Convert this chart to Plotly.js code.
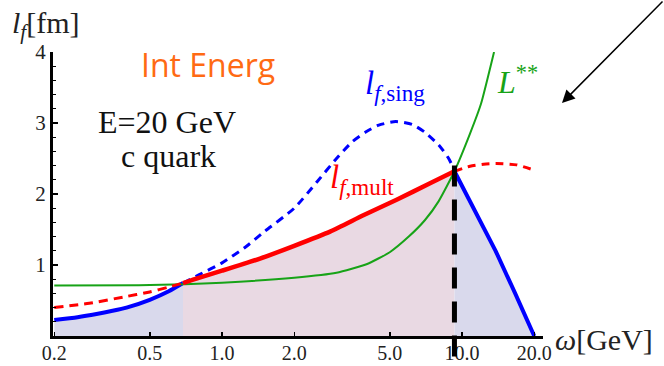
<!DOCTYPE html>
<html>
<head>
<meta charset="utf-8">
<script src="https://cdn.plot.ly/plotly-3.0.1.min.js"></script>
<style>html,body{margin:0;padding:0;background:#fff;}#chart{width:664px;height:366px;}</style>
</head>
<body>
<div id="chart"></div>
<script>
// ---- data (omega in GeV, l_f in fm) ----
const omegaBlueLeft = [0.2, 0.25, 0.3, 0.35, 0.4, 0.5, 0.6, 0.688];
const lBlueLeft     = [0.225, 0.265, 0.31, 0.355, 0.40, 0.51, 0.63, 0.746];

const omegaRedDashLeft = [0.2, 0.28, 0.39, 0.5, 0.6, 0.688];
const lRedDashLeft     = [0.40, 0.46, 0.55, 0.62, 0.69, 0.746];

const omegaRedMult = [0.688, 0.8, 1.0, 1.44, 2.0, 2.82, 3.88, 5.34, 7.36, 9.3];
const lRedMult     = [0.746, 0.82, 0.92, 1.09, 1.27, 1.47, 1.70, 1.92, 2.15, 2.32];

const omegaBlueDashSing = [0.688, 0.8, 1.0, 1.25, 1.5, 2.0, 2.5, 3.0, 3.5, 4.0, 4.5, 5.3, 6.2, 7.0, 8.0, 8.8, 9.3];
const lBlueDashSing     = [0.746, 0.86, 1.03, 1.25, 1.47, 1.80, 2.18, 2.50, 2.74, 2.88, 2.97, 3.02, 2.98, 2.87, 2.69, 2.50, 2.33];

const omegaRedDashRight = [9.3, 10.8, 12.3, 13.9, 16.9, 19.8];
const lRedDashRight     = [2.32, 2.39, 2.42, 2.43, 2.41, 2.34];

const omegaBlueRight = [9.3, 11.3, 13.8, 16.6, 20.0];
const lBlueRight     = [2.32, 1.78, 1.20, 0.61, 0.0];

const omegaGreen = [0.2, 0.45, 0.7, 1.0, 2.0, 3.0, 4.0, 5.0, 6.0, 7.0, 8.0, 9.3, 10.8, 12.0, 13.6];
const lGreen     = [0.71, 0.715, 0.73, 0.75, 0.82, 0.89, 1.01, 1.18, 1.40, 1.63, 1.90, 2.32, 2.85, 3.27, 4.0];

const crossOmega = 9.3;     // vertical dashed marker
const crossTop = 2.4;

const xTickVals = [0.2, 0.5, 1, 2, 5, 10, 20];
const xTickText = ['0.2', '0.5', '1.0', '2.0', '5.0', '10.0', '20.0'];
const yTickVals = [1, 2, 3, 4];
const yTickText = ['1', '2', '3', '4'];

// ---- styling ----
const BLUE = '#0000ff', RED = '#ff0000', GREEN = '#17a317';
const LAV = 'rgb(217,217,236)', PINK = 'rgb(233,217,227)';
const SERIF = 'Liberation Serif';

const xr = [-0.7042, 1.3375];
const yr = [0, 4];

const traces = [
  {x: omegaBlueLeft, y: lBlueLeft, mode: 'lines', fill: 'tozeroy', fillcolor: LAV,
   line: {color: BLUE, width: 4, shape: 'spline', smoothing: 0.6}},
  {x: omegaRedMult, y: lRedMult, mode: 'lines', fill: 'tozeroy', fillcolor: PINK,
   line: {color: RED, width: 0, shape: 'spline', smoothing: 0.6}},
  {x: omegaBlueRight, y: lBlueRight, mode: 'lines', fill: 'tozeroy', fillcolor: LAV,
   line: {color: BLUE, width: 0}},
  {x: omegaGreen, y: lGreen, mode: 'lines',
   line: {color: GREEN, width: 2, shape: 'spline', smoothing: 0.5}},
  {x: omegaRedDashLeft, y: lRedDashLeft, mode: 'lines',
   line: {color: RED, width: 3, dash: '9px,6px', shape: 'spline', smoothing: 0.6}},
  {x: omegaBlueDashSing, y: lBlueDashSing, mode: 'lines',
   line: {color: BLUE, width: 3, dash: '8px,6px', shape: 'spline', smoothing: 0.6}},
  {x: omegaRedDashRight, y: lRedDashRight, mode: 'lines',
   line: {color: RED, width: 3, dash: '8px,6px', shape: 'spline', smoothing: 0.6}},
  {x: omegaRedMult, y: lRedMult, mode: 'lines',
   line: {color: RED, width: 4.5, shape: 'spline', smoothing: 0.6}},
  {x: omegaBlueRight, y: lBlueRight, mode: 'lines',
   line: {color: BLUE, width: 4}}
];
traces.forEach(t => { t.hoverinfo = 'skip'; t.showlegend = false; });

const W = 664, H = 366, mL = 53, mR = 121, mT = 52, mB = 30;
const pw = W - mL - mR, ph = H - mT - mB;
const px = v => (v - mL) / pw;     // pixel -> paper (x)
const py = v => (H - mB - v) / ph; // pixel -> paper (y)

const layout = {
  width: W, height: H,
  margin: {l: mL, r: mR, t: mT, b: mB, pad: 0},
  paper_bgcolor: '#fff', plot_bgcolor: '#fff',
  showlegend: false,
  xaxis: {
    type: 'log', range: xr, showgrid: false, zeroline: false,
    showline: true, linecolor: '#000', linewidth: 2.5,
    ticks: 'inside', ticklen: 4, tickwidth: 1.5, tickcolor: '#000',
    tickmode: 'array', tickvals: xTickVals, ticktext: xTickText,
    tickfont: {family: SERIF, size: 20, color: '#222'},
    ticklabelstandoff: -3
  },
  yaxis: {
    range: yr, showgrid: false, zeroline: false,
    showline: true, linecolor: '#000', linewidth: 3,
    ticks: 'inside', ticklen: 5, tickwidth: 1.5, tickcolor: '#000',
    tickmode: 'array', tickvals: yTickVals, ticktext: yTickText,
    tickfont: {family: SERIF, size: 21, color: '#222'},
    minor: {dtick: 0.2, ticks: 'inside', ticklen: 3, tickwidth: 1.2, tickcolor: '#000', showgrid: false}
  },
  shapes: [
    {type: 'line', xref: 'x', yref: 'paper', x0: crossOmega, x1: crossOmega,
     y0: crossTop / yr[1], y1: py(368), layer: 'above',
     line: {color: '#000', width: 5, dash: '21px,13px'}}
  ],
  annotations: [
    {xref: 'paper', yref: 'paper', x: px(10), y: py(25), xanchor: 'left', yanchor: 'middle', showarrow: false,
     text: '<i>l</i><sub><i>f</i></sub>[fm]', font: {family: SERIF, size: 30, color: '#222'}},
    {xref: 'paper', yref: 'paper', x: px(553), y: py(339), xanchor: 'left', yanchor: 'middle', showarrow: false,
     text: '<i>ω</i>[GeV]', font: {family: SERIF, size: 30, color: '#222'}},
    {xref: 'paper', yref: 'paper', x: px(139), y: py(64), xanchor: 'left', yanchor: 'middle', showarrow: false,
     text: 'Int Energ', font: {family: 'Open Sans', size: 32, color: '#ff6a13'}},
    {xref: 'paper', yref: 'paper', x: px(166.5), y: py(122), xanchor: 'center', yanchor: 'middle', showarrow: false,
     text: 'E=20 GeV', font: {family: SERIF, size: 32, color: '#111'}},
    {xref: 'paper', yref: 'paper', x: px(168), y: py(156), xanchor: 'center', yanchor: 'middle', showarrow: false,
     text: 'c quark', font: {family: SERIF, size: 32, color: '#111'}},
    {xref: 'paper', yref: 'paper', x: px(363), y: py(86), xanchor: 'left', yanchor: 'middle', showarrow: false,
     text: '<i>l</i><sub><i>f</i>,sing</sub>', font: {family: SERIF, size: 33, color: BLUE}},
    {xref: 'paper', yref: 'paper', x: px(328), y: py(179), xanchor: 'left', yanchor: 'middle', showarrow: false,
     text: '<i>l</i><sub><i>f</i>,mult</sub>', font: {family: SERIF, size: 33, color: RED}},
    {xref: 'paper', yref: 'paper', x: px(495), y: py(80), xanchor: 'left', yanchor: 'middle', showarrow: false,
     text: '<i>L</i><sup>**</sup>', font: {family: SERIF, size: 32, color: GREEN}},
    {xref: 'paper', yref: 'paper', x: px(562), y: py(103), showarrow: true, text: '',
     ax: 104, ay: -104, arrowhead: 2, arrowsize: 1.7, arrowwidth: 1.5, arrowcolor: '#000'}
  ]
};

Plotly.newPlot('chart', traces, layout, {staticPlot: true, displayModeBar: false});
</script>
</body>
</html>
